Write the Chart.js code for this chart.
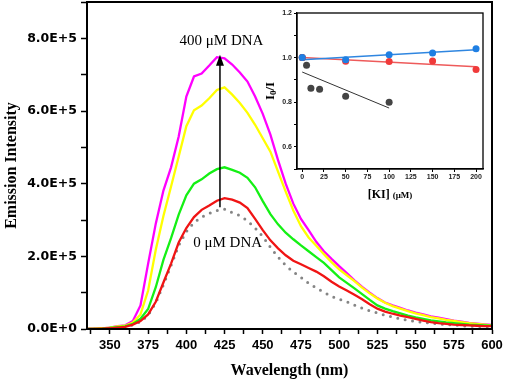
<!DOCTYPE html>
<html>
<head>
<meta charset="utf-8">
<script src="https://cdn.jsdelivr.net/npm/chart.js@4.4.0/dist/chart.umd.min.js"></script>
<style>
  body { margin: 0; background: #fff; }
  #wrap { position: relative; width: 505px; height: 383px; }
  #main { position: absolute; left: 0; top: 0; }
  #inset { position: absolute; left: 260px; top: 0; }
</style>
</head>
<body>
<div id="wrap">
  <canvas id="main" width="505" height="383"></canvas>
  <canvas id="inset" width="230" height="205"></canvas>
</div>
<script>
// emission spectra, every 5 nm
const wavelength = [335, 340, 345, 350, 355, 360, 365, 370, 375, 380, 385, 390, 395, 400, 405, 410, 415, 420, 425, 430,
  435, 440, 445, 450, 455, 460, 465, 470, 475, 480, 485, 490, 495, 500, 505, 510, 515, 520, 525, 530,
  535, 540, 545, 550, 555, 560, 565, 570, 575, 580, 585, 590, 595, 600];

const magentaCurve = [0, 1e3, 2e3, 4e3, 8e3, 10e3, 22e3, 65e3, 180e3, 290e3, 381e3, 445e3, 530e3, 640e3, 695e3, 703e3, 725e3, 748e3, 745e3, 728e3,
  706e3, 681e3, 640e3, 592e3, 535e3, 465e3, 400e3, 345e3, 303e3, 272e3, 240e3, 214e3, 193e3, 173e3, 154e3, 134e3, 116e3, 100e3, 85e3, 73e3,
  65e3, 58e3, 51e3, 45e3, 40e3, 35e3, 31e3, 27e3, 23e3, 20e3, 17e3, 15e3, 13e3, 11e3];

const yellowCurve = [0, 1e3, 2e3, 4e3, 7e3, 9e3, 18e3, 40e3, 106e3, 218e3, 311e3, 392e3, 475e3, 558e3, 602e3, 615e3, 635e3, 658e3, 665e3, 645e3,
  622e3, 595e3, 562e3, 525e3, 488e3, 433e3, 378e3, 326e3, 283e3, 252e3, 229e3, 206e3, 184e3, 164e3, 148e3, 132e3, 114e3, 98e3, 84e3, 72e3,
  63e3, 56e3, 49e3, 43e3, 38e3, 33e3, 29e3, 25e3, 22e3, 19e3, 16e3, 14e3, 12e3, 10e3];

const greenCurve = [0, 0, 1e3, 3e3, 5e3, 7e3, 14e3, 28e3, 55e3, 115e3, 190e3, 250e3, 315e3, 368e3, 400e3, 412e3, 428e3, 440e3, 445e3, 438e3,
  430e3, 416e3, 390e3, 352e3, 316e3, 288e3, 265e3, 247e3, 230e3, 214e3, 198e3, 182e3, 162e3, 142e3, 127e3, 112e3, 96e3, 80e3, 65e3, 56e3,
  49e3, 43e3, 37e3, 32e3, 28e3, 24e3, 21e3, 18e3, 16e3, 14e3, 12e3, 11e3, 10e3, 9e3];

const redCurve = [0, 0, 1e3, 2e3, 4e3, 6e3, 12e3, 22e3, 40e3, 75e3, 128e3, 180e3, 238e3, 278e3, 308e3, 328e3, 340e3, 353e3, 360e3, 356e3,
  348e3, 333e3, 303e3, 272e3, 244e3, 222e3, 203e3, 188e3, 178e3, 168e3, 158e3, 145e3, 130e3, 117e3, 106e3, 94e3, 82e3, 68e3, 56e3, 48e3,
  42e3, 37e3, 33e3, 28e3, 23e3, 19e3, 16e3, 14e3, 12e3, 11e3, 10e3, 9e3, 8e3, 8e3];

const grayCurve = [0, 0, 1e3, 2e3, 3e3, 5e3, 11e3, 20e3, 38e3, 72e3, 122e3, 175e3, 230e3, 268e3, 293e3, 308e3, 318e3, 326e3, 330e3, 320e3,
  312e3, 298e3, 278e3, 255e3, 225e3, 198e3, 175e3, 157e3, 142e3, 126e3, 113e3, 101e3, 90e3, 82e3, 75e3, 66e3, 57e3, 50e3, 44e3, 38e3,
  33e3, 28e3, 24e3, 21e3, 18e3, 16e3, 14e3, 12e3, 11e3, 9e3, 8e3, 7e3, 6e3, 6e3];

// annotation: arrow and its two labels, in data units (nm, intensity)
const arrowNm = 422, arrowFrom = 3.35e5, arrowTo = 7.55e5;
const topLabel = '400 μM DNA', topLabelAt = [423, 7.92e5];
const bottomLabel = '0 μM DNA', bottomLabelAt = [427, 2.36e5];

// inset: I0/I against [KI]
const kiConc = [0, 50, 100, 150, 200];
const blueRatio = [1.0, 0.99, 1.013, 1.02, 1.04];
const redRatio = [1.0, 0.983, 0.982, 0.985, 0.947];
const grayConc = [0, 5, 10, 20, 50, 100];
const grayRatio = [1.0, 0.965, 0.862, 0.858, 0.827, 0.80];
const kiTicks = [0, 25, 50, 75, 100, 125, 150, 175, 200];

function pts(xs, ys) { return xs.map((v, i) => ({ x: v, y: ys[i] })); }

// least squares line across the range of xs
function fitLine(xs, ys) {
  const n = xs.length;
  const mx = xs.reduce((a, b) => a + b, 0) / n;
  const my = ys.reduce((a, b) => a + b, 0) / n;
  let sxy = 0, sxx = 0;
  xs.forEach((v, i) => { sxy += (v - mx) * (ys[i] - my); sxx += (v - mx) * (v - mx); });
  const k = sxy / sxx;
  const x0 = Math.min(...xs), x1 = Math.max(...xs);
  return [{ x: x0, y: my + k * (x0 - mx) }, { x: x1, y: my + k * (x1 - mx) }];
}

// minor+major ticks every `step` inside the axis range
function stepTicks(s, step) {
  const out = [];
  for (let v = Math.ceil(s.min / step) * step; v <= s.max + 1e-9; v += step) out.push({ value: v });
  s.ticks = out;
}

function noPad(s) { s.paddingTop = 0; s.paddingBottom = 0; s.paddingLeft = 0; s.paddingRight = 0; }

const mainDecor = {
  id: 'mainDecor',
  afterDraw(chart) {
    const { ctx, chartArea: a, scales: { x, y } } = chart;
    ctx.save();
    ctx.strokeStyle = '#000';
    ctx.lineWidth = 2;
    ctx.strokeRect(a.left, a.top, a.right - a.left, a.bottom - a.top);

    const ax = x.getPixelForValue(arrowNm);
    const yb = y.getPixelForValue(arrowFrom), yt = y.getPixelForValue(arrowTo);
    ctx.lineWidth = 1.5;
    ctx.beginPath();
    ctx.moveTo(ax, yb);
    ctx.lineTo(ax, yt + 8);
    ctx.stroke();
    ctx.fillStyle = '#000';
    ctx.beginPath();
    ctx.moveTo(ax, yt);
    ctx.lineTo(ax - 4, yt + 11);
    ctx.lineTo(ax + 4, yt + 11);
    ctx.closePath();
    ctx.fill();

    ctx.font = '15px "Liberation Serif"';
    ctx.textAlign = 'center';
    ctx.textBaseline = 'middle';
    ctx.fillText(topLabel, x.getPixelForValue(topLabelAt[0]), y.getPixelForValue(topLabelAt[1]));
    ctx.fillText(bottomLabel, x.getPixelForValue(bottomLabelAt[0]), y.getPixelForValue(bottomLabelAt[1]));
    ctx.restore();
  }
};

const line = (label, data, color) => ({
  label, data, borderColor: color, backgroundColor: color, borderWidth: 2.3, pointRadius: 0, tension: 0, fill: false
});

new Chart(document.getElementById('main'), {
  type: 'line',
  data: {
    labels: wavelength,
    datasets: [
      line('0 μM DNA', redCurve, '#f01414'),
      line('green', greenCurve, '#14f014'),
      line('yellow', yellowCurve, '#ffff00'),
      line('400 μM DNA', magentaCurve, '#ff00ff'),
      Object.assign(line('free', grayCurve, '#858585'), { borderWidth: 3, borderDash: [0, 7.5], borderCapStyle: 'round' })
    ]
  },
  options: {
    responsive: false,
    animation: false,
    devicePixelRatio: 1,
    layout: { padding: { top: 2, right: 13, left: 0, bottom: 0 } },
    plugins: { legend: { display: false }, tooltip: { enabled: false } },
    scales: {
      x: {
        type: 'linear',
        min: 335,
        max: 600,
        afterFit: s => { s.height = 54; noPad(s); },
        afterBuildTicks: s => stepTicks(s, 12.5),
        ticks: {
          autoSkip: false, maxRotation: 0, padding: 4, color: '#000',
          font: { family: '"Liberation Sans", Arial', size: 13, weight: 'bold' },
          callback: v => (v % 25 === 0 ? String(v) : '')
        },
        grid: { drawOnChartArea: false, tickLength: 5, tickColor: '#000', tickWidth: 1.5 },
        border: { color: '#000', width: 2 },
        title: {
          display: true, text: 'Wavelength (nm)', color: '#000', padding: { top: 0, bottom: 3 },
          font: { family: '"Liberation Serif", "Times New Roman"', size: 16, weight: 'bold' }
        }
      },
      y: {
        min: 0,
        max: 9e5,
        afterFit: s => { s.width = 87; noPad(s); },
        afterBuildTicks: s => stepTicks(s, 1e5),
        ticks: {
          autoSkip: false, padding: 4, color: '#000',
          font: { family: '"DejaVu Sans"', size: 12.5, weight: 'bold' },
          callback: v => {
            if (v % 2e5 !== 0) return '';
            return v === 0 ? '0.0E+0' : (v / 1e5).toFixed(1) + 'E+5';
          }
        },
        grid: { drawOnChartArea: false, tickLength: 6, tickColor: '#000', tickWidth: 1.5 },
        border: { color: '#000', width: 2 },
        title: {
          display: true, text: 'Emission Intensity', color: '#000', padding: { top: 2, bottom: 0 },
          font: { family: '"Liberation Serif", "Times New Roman"', size: 16, weight: 'bold' }
        }
      }
    }
  },
  plugins: [mainDecor]
});

const insetDecor = {
  id: 'insetDecor',
  afterDraw(chart) {
    const { ctx, chartArea: a } = chart;
    ctx.save();
    ctx.strokeStyle = '#000';
    ctx.lineWidth = 1.3;
    ctx.strokeRect(a.left, a.top, a.right - a.left, a.bottom - a.top);
    ctx.fillStyle = '#000';
    ctx.textBaseline = 'middle';

    // x title: [KI] (μM)
    const big = 'bold 12px "Liberation Serif"', small = 'bold 9px "Liberation Serif"';
    ctx.font = big;
    const w1 = ctx.measureText('[KI] ').width;
    ctx.font = small;
    const w2 = ctx.measureText('(μM)').width;
    const cx = (a.left + a.right) / 2 - (w1 + w2) / 2;
    ctx.textAlign = 'left';
    ctx.font = big;
    ctx.fillText('[KI] ', cx, a.bottom + 26);
    ctx.font = small;
    ctx.fillText('(μM)', cx + w1, a.bottom + 27);

    // y title: I0/I
    ctx.translate(a.left - 26, (a.top + a.bottom) / 2);
    ctx.rotate(-Math.PI / 2);
    const bigY = 'bold 13px "Liberation Serif"', subY = 'bold 9px "Liberation Serif"';
    ctx.font = bigY;
    const iw = ctx.measureText('I').width, sw = ctx.measureText('/I').width;
    ctx.font = subY;
    const zw = ctx.measureText('0').width;
    let px = -(iw + zw + sw) / 2;
    ctx.font = bigY;
    ctx.fillText('I', px, 0);
    px += iw;
    ctx.font = subY;
    ctx.fillText('0', px, 3);
    px += zw;
    ctx.font = bigY;
    ctx.fillText('/I', px, 0);
    ctx.restore();
  }
};

const dots = (data, color) => ({ data, backgroundColor: color, borderColor: color, pointRadius: 3.5, borderWidth: 0, showLine: false });
const fit = (data, color, w) => ({ data, borderColor: color, borderWidth: w, pointRadius: 0, showLine: true });

new Chart(document.getElementById('inset'), {
  type: 'scatter',
  data: {
    datasets: [
      dots(pts(kiConc, blueRatio), '#1f7fe3'),
      dots(pts(kiConc, redRatio), '#f03a3a'),
      dots(pts(grayConc, grayRatio), '#444444'),
      fit(fitLine(kiConc, blueRatio), '#2f86e0', 1.5),
      fit(fitLine(kiConc, redRatio), '#ee5a5a', 1.5),
      fit(fitLine(grayConc, grayRatio), '#333333', 1)
    ]
  },
  options: {
    responsive: false,
    animation: false,
    devicePixelRatio: 1,
    layout: { padding: { top: 13, right: 7, left: 0, bottom: 0 } },
    plugins: { legend: { display: false }, tooltip: { enabled: false } },
    scales: {
      x: {
        type: 'linear',
        min: -6,
        max: 208,
        afterFit: s => { s.height = 36; noPad(s); },
        afterBuildTicks: s => { s.ticks = kiTicks.map(v => ({ value: v })); },
        ticks: {
          autoSkip: false, maxRotation: 0, padding: 1, color: '#222',
          font: { family: '"Liberation Sans", Arial', size: 7, weight: 'bold' }
        },
        grid: { drawOnChartArea: false, tickLength: 3, tickColor: '#000', tickWidth: 1 },
        border: { color: '#000', width: 1.3 }
      },
      y: {
        min: 0.5,
        max: 1.2,
        afterFit: s => { s.width = 37; noPad(s); },
        ticks: {
          stepSize: 0.1, autoSkip: false, padding: 2, color: '#222',
          font: { family: '"Liberation Sans", Arial', size: 7, weight: 'bold' },
          callback: v => {
            const k = Math.round(v * 10);
            return k % 2 === 0 ? (k / 10).toFixed(1) : '';
          }
        },
        grid: { drawOnChartArea: false, tickLength: 3, tickColor: '#000', tickWidth: 1 },
        border: { color: '#000', width: 1.3 }
      }
    }
  },
  plugins: [insetDecor]
});
</script>
</body>
</html>
